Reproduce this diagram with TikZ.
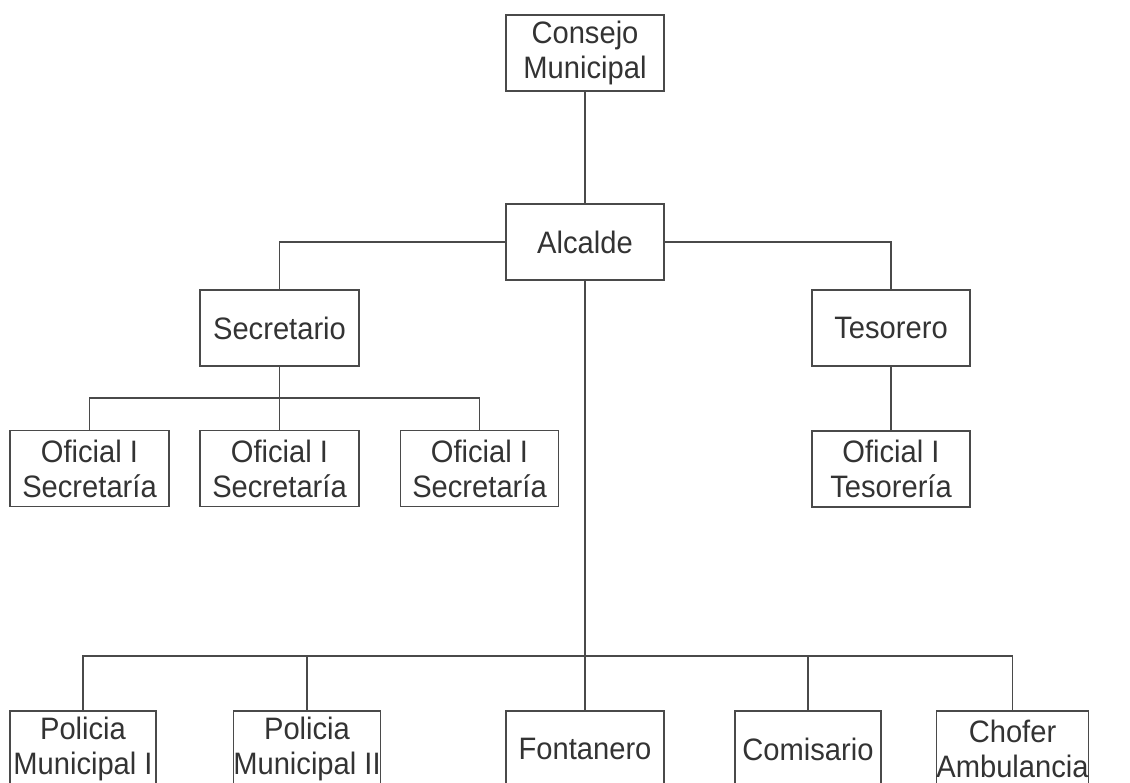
\documentclass[tikz,border=0pt]{standalone}
\usepackage{fontspec}
\setmainfont{Liberation Sans}[FakeStretch=0.94]
\definecolor{linegray}{HTML}{4A4A4A}
\definecolor{textgray}{HTML}{333333}
\begin{document}
\begin{tikzpicture}[x=1pt,y=-1pt,
  box/.style={draw=linegray, line width=1.2pt, rectangle, inner sep=0pt,
    minimum height=76pt, align=center, text=textgray,
    font=\fontsize{31}{35}\selectfont},
  conn/.style={draw=linegray, line width=1.2pt}]
\useasboundingbox (0,0) rectangle (1130,783);
\node[box, minimum width=158pt] (consejo) at (585,53) {Consejo\\Municipal};
\node[box, minimum width=158pt] (alcalde) at (585,242) {Alcalde};
\node[box, minimum width=159pt] (secretario) at (279.5,328) {Secretario};
\node[box, minimum width=158pt] (tesorero) at (891,328) {Tesorero};
\node[box, minimum width=159pt] (of1) at (89.5,468.5) {Oficial I\\Secretaría};
\node[box, minimum width=159pt] (of2) at (279.5,468.5) {Oficial I\\Secretaría};
\node[box, minimum width=158pt] (of3) at (479.5,468.5) {Oficial I\\Secretaría};
\node[box, minimum width=158pt] (oftes) at (891,469) {Oficial I\\Tesorería};
\node[box, minimum width=146pt] (pol1) at (83,749) {Policia\\Municipal I};
\node[box, minimum width=146pt] (pol2) at (307,749) {Policia\\Municipal II};
\node[box, minimum width=158pt] (font) at (585,749) {Fontanero};
\node[box, minimum width=146pt] (comis) at (808,749) {Comisario};
\node[box, minimum width=147pt] (chofer) at (1012.5,749) {Chofer\\Ambulancia};
\coordinate (sb) at (279.5,398);
\coordinate (bb) at (585,656);
\draw[conn] (consejo.south) -- (alcalde.north);
\draw[conn] (alcalde.west) -| (secretario.north);
\draw[conn] (alcalde.east) -| (tesorero.north);
\draw[conn] (tesorero.south) -- (oftes.north);
\draw[conn] (secretario.south) -- (of2.north);
\draw[conn] (of1.north) |- (sb) -| (of3.north);
\draw[conn] (alcalde.south) -- (font.north);
\draw[conn] (pol1.north) |- (bb) -| (chofer.north);
\draw[conn] (pol2.north) -- (pol2.north |- bb);
\draw[conn] (comis.north) -- (comis.north |- bb);
\end{tikzpicture}
\end{document}
